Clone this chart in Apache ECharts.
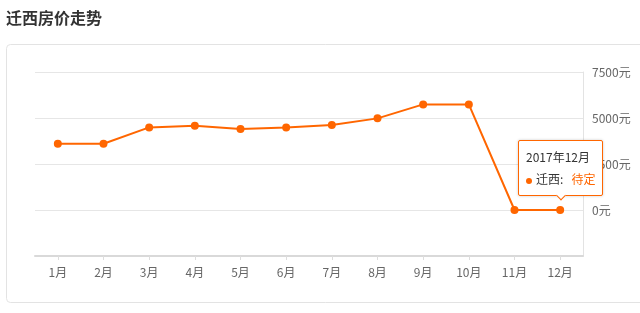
<!DOCTYPE html>
<html>
<head>
<meta charset="utf-8">
<script src="https://cdn.jsdelivr.net/npm/echarts@6/dist/echarts.min.js"></script>
<style>
html,body{margin:0;padding:0;background:#fff;}
#chart{width:640px;height:313px;}
</style>
</head>
<body>
<div id="chart"></div>
<script>
var titleText = '迁西房价走势';
var seriesName = '迁西';
var months = ['1月','2月','3月','4月','5月','6月','7月','8月','9月','10月','11月','12月'];
var tooltipTitles = ['2017年1月','2017年2月','2017年3月','2017年4月','2017年5月','2017年6月','2017年7月','2017年8月','2017年9月','2017年10月','2017年11月','2017年12月'];
var prices = [3600, 3600, 4490, 4580, 4400, 4490, 4620, 4980, 5740, 5740, 0, 0];
var yTicks = [-2500, 0, 2500, 5000, 7500];
var pendingText = '待定';

var FONT = '"Noto Sans CJK SC", "Noto Sans", sans-serif';
var ORANGE = '#ff6600';

var chart = echarts.init(document.getElementById('chart'), null, {renderer: 'canvas'});
chart.setOption({
  animation: false,
  textStyle: {fontFamily: FONT},
  title: {
    text: titleText,
    left: 6, top: 10, padding: 0,
    textStyle: {fontSize: 16, fontWeight: 'bold', color: '#333', fontFamily: FONT}
  },
  graphic: [{
    type: 'rect',
    shape: {x: 6.5, y: 44.5, width: 660, height: 258, r: 4},
    style: {fill: 'none', stroke: '#e3e3e3', lineWidth: 1},
    silent: true, z: -1
  }],
  grid: {left: 35, right: 57, top: 72, bottom: 57, containLabel: false},
  tooltip: {
    trigger: 'item',
    position: 'top',
    alwaysShowContent: true,
    showDelay: 0,
    transitionDuration: 0,
    backgroundColor: '#fff',
    borderColor: ORANGE,
    borderWidth: 1,
    padding: [5, 7],
    extraCssText: 'box-shadow:0 0 3px rgba(0,0,0,0.2);border-radius:2px;',
    textStyle: {fontFamily: FONT, fontSize: 12, color: '#333'},
    formatter: function (p) {
      var v = p.value === 0 ? pendingText : p.value + '元';
      return '<div style="line-height:22px;font-family:' + FONT.replace(/"/g, "'") + ';font-size:12px;color:#333;">' +
        tooltipTitles[p.dataIndex] + '<br/>' +
        '<span style="display:inline-block;width:6px;height:6px;border-radius:3px;background:' + ORANGE + ';margin-right:4px;vertical-align:middle;"></span>' +
        p.seriesName + ':&nbsp;&nbsp;&nbsp;<span style="color:' + ORANGE + ';">' + v + '</span></div>';
    }
  },
  xAxis: {
    type: 'category',
    data: months,
    boundaryGap: true,
    axisLine: {show: true, onZero: false, lineStyle: {color: '#d9d9d9', width: 2}},
    axisTick: {show: true, alignWithLabel: true, length: 4, lineStyle: {color: '#ddd'}},
    axisLabel: {color: '#666', fontSize: 12, margin: 10, fontFamily: FONT},
    splitLine: {show: false}
  },
  yAxis: {
    type: 'value',
    position: 'right',
    min: yTicks[0],
    max: yTicks[yTicks.length - 1],
    interval: 2500,
    axisLine: {show: true, lineStyle: {color: '#e3e3e3', width: 1}},
    axisTick: {show: false},
    axisLabel: {
      color: '#666', fontSize: 12, margin: 9, fontFamily: FONT,
      formatter: function (v) { return v < 0 ? '' : v + '元'; }
    },
    splitLine: {show: true, lineStyle: {color: '#e6e6e6', width: 1}}
  },
  series: [{
    name: seriesName,
    type: 'line',
    data: prices,
    symbol: 'circle',
    symbolSize: 8,
    itemStyle: {color: ORANGE},
    lineStyle: {color: ORANGE, width: 2}
  }]
});
chart.dispatchAction({type: 'showTip', seriesIndex: 0, dataIndex: 11});
</script>
</body>
</html>
